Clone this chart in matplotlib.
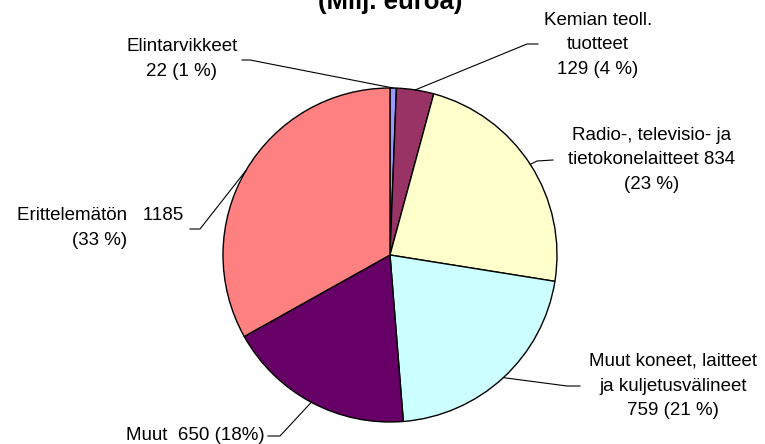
import numpy as np
import matplotlib
matplotlib.use("Agg")
import matplotlib.pyplot as plt

plt.rcParams['font.family'] = ['Liberation Sans', 'DejaVu Sans']

# data (milj. euroa)
names = ["Elintarvikkeet", "Kemian teoll.\ntuotteet", "Radio-, televisio- ja\ntietokonelaitteet",
         "Muut koneet, laitteet\nja kuljetusvälineet", "Muut", "Erittelemätön"]
values = [22, 129, 834, 759, 650, 1185]
label_fmt = ["{n}\n{v} ({p} %)", "{n}\n{v} ({p} %)", "{n} {v}\n({p} %)",
             "{n}\n{v} ({p} %)", "{n}  {v} ({p}%)", "{n}   {v}\n({p} %)"]
colors = ["#9999FF", "#993366", "#FFFFCC", "#CCFFFF", "#660066", "#FF8080"]

W, H = 765, 444
cx, cy, r = 390, 255, 167

# label centre (px from top-left) and the end of the leader next to the label
label_pos = [(182, 59), (598, 45), (652, 160), (673, 386), (195, 435), (100, 228)]
leader_end = [(242, 60), (538, 44), (553, 160), (580, 386), (268, 436), (190, 229)]
leader_elbow = [(250, 60), (527, 44), (537, 161), (567, 386), (280, 436), (200, 229)]

fig = plt.figure(figsize=(W / 100, H / 100), dpi=100)
ax = fig.add_axes([0, 0, 1, 1])

ax.pie(values, colors=colors, startangle=90, counterclock=False,
       center=(cx, H - cy), radius=r,
       wedgeprops=dict(edgecolor='black', linewidth=1.0))
ax.set_xlim(0, W)
ax.set_ylim(0, H)
ax.axis('off')

total = sum(values)
cum = np.cumsum([0] + values)
for i, v in enumerate(values):
    mid = (cum[i] + cum[i + 1]) / 2 / total
    ang = np.deg2rad(90 - 360 * mid)
    ex, ey = cx + r * np.cos(ang), H - cy + r * np.sin(ang)
    (bx, by), (lx, ly) = leader_elbow[i], leader_end[i]
    ax.plot([ex, bx, lx], [ey, H - by, H - ly], color='black', lw=0.8)
    pct = round(100 * v / total)
    txt = label_fmt[i].format(n=names[i], v=v, p=pct)
    tx, ty = label_pos[i]
    ax.text(tx, H - ty, txt, ha='center', va='center', fontsize=13.5,
            linespacing=1.6, color='black')

fig.text(390 / W, 1 - 9 / H, "(Milj. euroa)", ha='center', va='baseline',
         fontsize=18.5, fontweight='bold')

fig.savefig("out.png", dpi=100)
